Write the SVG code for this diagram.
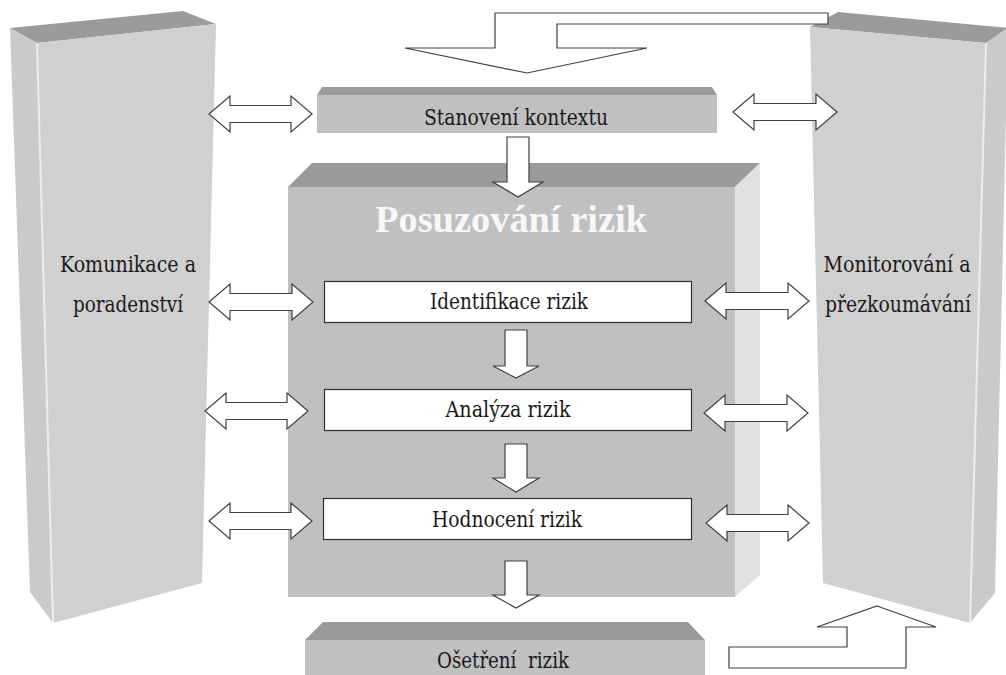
<svg xmlns="http://www.w3.org/2000/svg" width="1006" height="675" viewBox="0 0 1006 675">
<style>
.top{fill:#9b9b9b}
.front{fill:#d0d0d0}
.side{fill:#cacaca}
.hl{stroke:#ececec;stroke-width:2;fill:none}
.cfront{fill:#c0c0c0}
.cside{fill:#e1e1e1}
.wbox{fill:#ffffff;stroke:#303030;stroke-width:1.2}
.arr{fill:#ffffff;stroke:#404040;stroke-width:1.2;stroke-linejoin:miter}
.t{font-family:"DejaVu Serif Condensed","DejaVu Serif",serif;font-stretch:condensed;font-size:22px;fill:#1a1a1a;text-anchor:middle}
.big{font-family:"Liberation Serif",serif;font-size:38px;font-weight:bold;fill:#f7f7f7;text-anchor:middle}
</style>
<rect width="1006" height="675" fill="#ffffff"/>

<g id="komunikace">
<polygon class="top" points="10,28 183,11 216,24 37,43"/>
<polygon class="side" points="10,28 37,43 53,623 30,592"/>
<polygon class="front" points="37,43 216,24 202,583 53,623"/>
<line class="hl" x1="37" y1="43" x2="53" y2="623"/>
<text class="t" x="128" y="272" textLength="136" lengthAdjust="spacingAndGlyphs">Komunikace a</text>
<text class="t" x="128" y="312" textLength="110" lengthAdjust="spacingAndGlyphs">poradenství</text>
</g>

<g id="monitorovani">
<polygon class="top" points="810,27 838,12 1008,28 986,43"/>
<polygon class="side" points="986,43 1008,28 995,593 970,623"/>
<polygon class="front" points="810,27 986,43 970,623 823,583"/>
<line class="hl" x1="986" y1="43" x2="970" y2="623"/>
<text class="t" x="897" y="272" textLength="147" lengthAdjust="spacingAndGlyphs">Monitorování a</text>
<text class="t" x="898" y="312" textLength="146" lengthAdjust="spacingAndGlyphs">přezkoumávání</text>
</g>

<g id="stanoveni">
<polygon class="top" points="317,95 322,87 712,87 717,95"/>
<rect class="cfront" x="317" y="95" width="400" height="38"/>
<text class="t" x="516" y="125" textLength="184" lengthAdjust="spacingAndGlyphs">Stanovení kontextu</text>
</g>

<g id="posuzovani">
<polygon class="top" points="288,187 312,163 760,163 735,187"/>
<polygon class="cside" points="735,187 760,163 760,575 735,597"/>
<rect class="cfront" x="288" y="187" width="447" height="410"/>
<text class="big" x="511" y="232" textLength="272" lengthAdjust="spacingAndGlyphs">Posuzování rizik</text>
</g>

<g id="identifikace">
<rect class="wbox" x="324.5" y="281.5" width="367" height="41"/>
<text class="t" x="509" y="309" textLength="158" lengthAdjust="spacingAndGlyphs">Identifikace rizik</text>
</g>

<g id="analyza">
<rect class="wbox" x="324.5" y="389.5" width="367" height="41"/>
<text class="t" x="508" y="417" textLength="125" lengthAdjust="spacingAndGlyphs">Analýza rizik</text>
</g>

<g id="hodnoceni">
<rect class="wbox" x="323.5" y="498.5" width="368" height="41"/>
<text class="t" x="507" y="527" textLength="150" lengthAdjust="spacingAndGlyphs">Hodnocení rizik</text>
</g>

<g id="osetreni">
<polygon class="top" points="305,640 323,622 688,622 705,640"/>
<rect class="cfront" x="305" y="640" width="400" height="40"/>
<text class="t" x="503" y="668" xml:space="preserve" textLength="132" lengthAdjust="spacingAndGlyphs">Ošetření  rizik</text>
</g>

<g id="connectors">
<polygon class="arr" points="495,13 828,13 828,24 557,24 557,48 647,48 527,73 405,48 495,48"/>
<polygon class="arr" points="877,606 936,627 906,627 906,668 729,668 729,647 847,647 847,627 817,627"/>
<polygon class="arr" points="507,137 529,137 529,182 543,182 518,197 493,182 507,182"/>
<polygon class="arr" points="505,330 527,330 527,366 539,366 516,378 493,366 505,366"/>
<polygon class="arr" points="505,444 527,444 527,478 539,478 516,492 493,478 505,478"/>
<polygon class="arr" points="505,561 527,561 527,595 539,595 516,608 493,595 505,595"/>
<polygon class="arr" points="209,114 230,96 230,105.5 291,105.5 291,96 312,114 291,132 291,122.5 230,122.5 230,132"/>
<polygon class="arr" points="733,112 754,94 754,103.5 816,103.5 816,94 837,112 816,130 816,120.5 754,120.5 754,130"/>
<polygon class="arr" points="209,302 230,284 230,293.5 292,293.5 292,284 313,302 292,320 292,310.5 230,310.5 230,320"/>
<polygon class="arr" points="705,301 726,283 726,292.5 788,292.5 788,283 809,301 788,319 788,309.5 726,309.5 726,319"/>
<polygon class="arr" points="205,411 226,393 226,402.5 287,402.5 287,393 308,411 287,429 287,419.5 226,419.5 226,429"/>
<polygon class="arr" points="704,413 725,395 725,404.5 787,404.5 787,395 808,413 787,431 787,421.5 725,421.5 725,431"/>
<polygon class="arr" points="209,521 230,503 230,512.5 291,512.5 291,503 312,521 291,539 291,529.5 230,529.5 230,539"/>
<polygon class="arr" points="706,523 727,505 727,514.5 788,514.5 788,505 809,523 788,541 788,531.5 727,531.5 727,541"/>
</g>
</svg>
